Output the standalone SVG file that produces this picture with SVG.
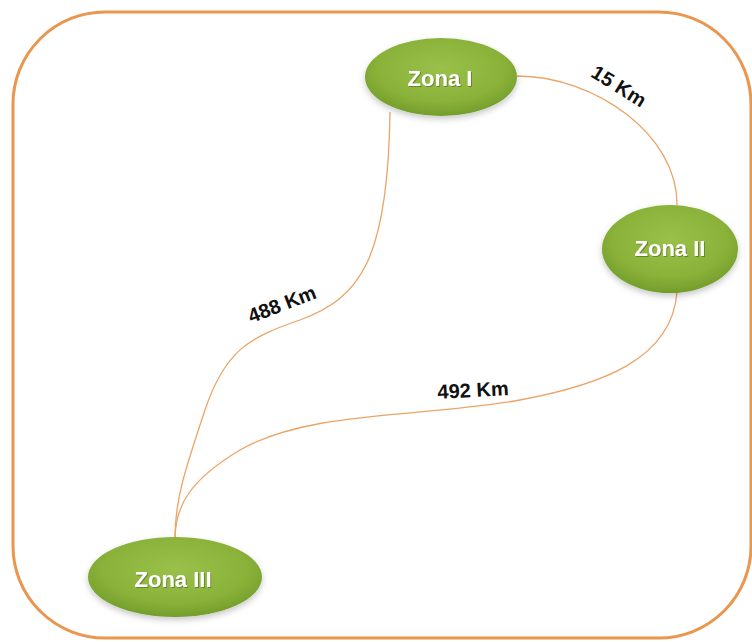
<svg xmlns="http://www.w3.org/2000/svg" width="752" height="642" viewBox="0 0 752 642">
  <defs>
    <radialGradient id="zoneFill" cx="0.5" cy="0.4" r="0.6">
      <stop offset="0" stop-color="#9AC049"/>
      <stop offset="0.7" stop-color="#8AB239"/>
      <stop offset="1" stop-color="#739D2B"/>
    </radialGradient>
    <filter id="soft" x="-20%" y="-30%" width="140%" height="160%">
      <feDropShadow dx="0" dy="3" stdDeviation="3" flood-color="#000" flood-opacity="0.22"/>
    </filter>
    <filter id="textShade" x="-10%" y="-20%" width="120%" height="140%">
      <feDropShadow dx="1" dy="1" stdDeviation="0.6" flood-color="#3a4d12" flood-opacity="0.5"/>
    </filter>
    <style>
      .frame { fill: #ffffff; stroke: #E9964E; stroke-width: 3; }
      .zone { fill: url(#zoneFill); filter: url(#soft); }
      .zone-label { font-family: "Liberation Sans", Arial, sans-serif; font-weight: bold; font-size: 22px; fill: #ffffff; text-anchor: middle; dominant-baseline: central; filter: url(#textShade); }
      .link { fill: none; stroke: #EBA466; stroke-width: 1.3; }
      .dist { font-family: "Liberation Sans", Arial, sans-serif; font-weight: bold; font-size: 20px; fill: #111111; text-anchor: middle; dominant-baseline: central; }
    </style>
  </defs>

  <rect width="752" height="642" fill="#ffffff"/>
  <rect class="frame" x="13" y="12" width="738" height="626" rx="92" ry="92"/>

  <g id="connectors">
    <path class="link" d="M517,76 C595,76 678,135 677,205"/>
    <path class="link" d="M390,112 C388,260 360,298 300,320 C250,337 225,350 205,410 C185,470 175,500 175,537"/>
    <path class="link" d="M677,292 C672,360 600,385 520,400 C420,418 310,410 240,450 C190,480 176,505 175,537"/>
    <text class="dist" transform="translate(619,86) rotate(32)">15 Km</text>
    <text class="dist" transform="translate(282,304) rotate(-21)">488 Km</text>
    <text class="dist" transform="translate(473,390) rotate(-3)">492 Km</text>
  </g>

  <g id="zona-1">
    <ellipse class="zone" cx="441" cy="77" rx="76" ry="39"/>
    <text class="zone-label" x="440" y="78">Zona I</text>
  </g>

  <g id="zona-2">
    <ellipse class="zone" cx="670" cy="249" rx="68" ry="44"/>
    <text class="zone-label" x="670" y="248">Zona II</text>
  </g>

  <g id="zona-3">
    <ellipse class="zone" cx="175" cy="577" rx="87" ry="40"/>
    <text class="zone-label" x="173" y="579">Zona III</text>
  </g>
</svg>
